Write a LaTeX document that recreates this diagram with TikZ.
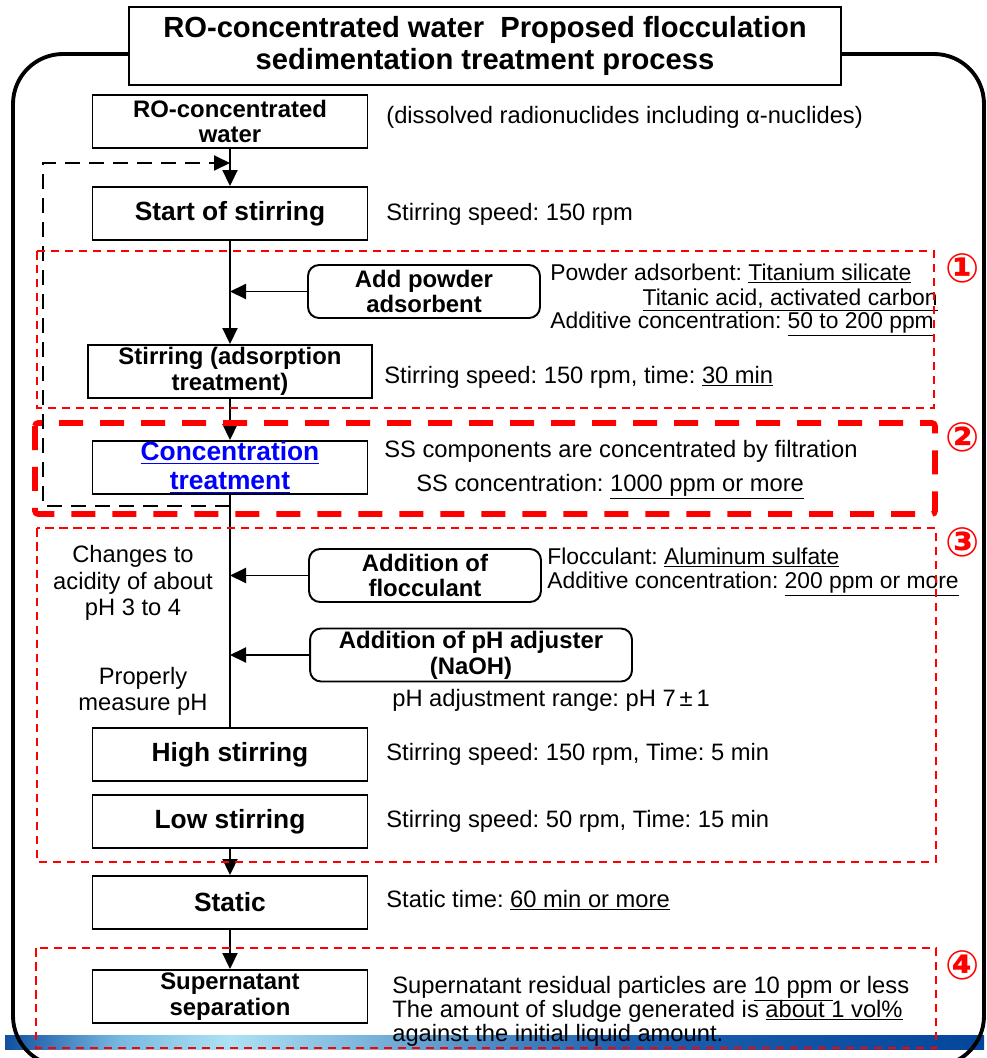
\documentclass[tikz,border=0pt]{standalone}
\usepackage{fontspec}
\setmainfont{Liberation Sans}
\newfontfamily\circfont{DejaVu Sans}
\frenchspacing
\usetikzlibrary{positioning}
\usetikzlibrary{shapes,arrows.meta}
\tikzset{
    objRectangle/.style={rectangle, minimum width=5.5cm, minimum height=1.06cm, text centered, draw=black, line width=1.1pt, align=center, inner sep=0pt},
    objRoundRectangle/.style={rectangle, rounded corners=0.22cm, minimum width=4.64cm, minimum height=1.06cm, text centered, draw=black, line width=1.1pt, align=center, inner sep=0pt},
    bigLabel/.style={font=\fontsize{15}{16.5}\selectfont\bfseries},
    midLabel/.style={font=\fontsize{13.6}{14.7}\selectfont\bfseries},
    noteText/.style={inner sep=0pt, anchor=base west, font=\fontsize{13.5}{14.7}\selectfont},
    addNote/.style={noteText, font=\fontsize{13}{14}\selectfont},
    sideNote/.style={inner sep=0pt, align=center, font=\fontsize{13.5}{14.9}\selectfont},
    zoneThin/.style={draw=red, line width=1pt, dash pattern=on 0.17cm off 0.11cm},
    zoneThick/.style={draw=red, line width=3.2pt, dash pattern=on 0.48cm off 0.34cm, rounded corners=0.06cm},
    zoneNum/.style={text=red, font=\circfont\bfseries\fontsize{23}{23}\selectfont, inner sep=0pt},
    arrow/.style={line width=1.1pt, -{Triangle[length=0.32cm, width=0.3cm]}},
    flowLine/.style={line width=1.1pt},
    loopArrow/.style={line width=1.1pt, dash pattern=on 0.3cm off 0.18cm, -{Triangle[length=0.32cm, width=0.3cm]}}
}

\begin{document}
\begin{tikzpicture}[x=0.02cm, y=-0.02cm]
  \useasboundingbox (0,0) rectangle (987,1058);

  % blue band along the bottom
  \shade[left color={rgb,255:red,16;green,80;blue,160}, right color={rgb,255:red,120;green,185;blue,225}] (5,1035) rectangle (120,1049);
  \shade[left color={rgb,255:red,120;green,185;blue,225}, right color={rgb,255:red,172;green,226;blue,243}] (120,1035) rectangle (230,1049);
  \shade[left color={rgb,255:red,172;green,226;blue,243}, right color={rgb,255:red,30;green,96;blue,176}] (230,1035) rectangle (620,1049);
  \shade[left color={rgb,255:red,30;green,96;blue,176}, right color={rgb,255:red,4;green,70;blue,155}] (620,1035) rectangle (984,1049);

  % outer frame
  \begin{scope}
    \clip (0,0) rectangle (987,1058);
    \draw[line width=2.2pt, rounded corners=1cm] (13,54) rectangle (984,1066);
  \end{scope}

  \node (title) [rectangle, draw=black, fill=white, line width=1.1pt, minimum width=14.24cm, minimum height=1.56cm, align=center, font=\fontsize{16.6}{18.2}\selectfont\bfseries] at (485,46) {RO-concentrated water\ \ Proposed flocculation\\sedimentation treatment process};

  % main flow
  \node (roWater) [objRectangle, midLabel] at (230,121.5) {RO-concentrated\\water};
  \node (startStir) [objRectangle, bigLabel] at (230,213.5) {Start of stirring};
  \node (addPowder) [objRoundRectangle, midLabel] at (424,291.5) {Add powder\\adsorbent};
  \node (stirAds) [objRectangle, midLabel, minimum width=5.68cm] at (230,371.5) {Stirring (adsorption\\treatment)};
  \node (concTreat) [objRectangle, bigLabel, text=blue] at (230,467.5) {\underline{Concentration}\\\underline{treatment}};
  \node (addFloc) [objRoundRectangle, midLabel] at (425,575.5) {Addition of\\flocculant};
  \node (addPh) [objRoundRectangle, midLabel, minimum width=6.44cm] at (471,655) {Addition of pH adjuster\\(NaOH)};
  \node (highStir) [objRectangle, bigLabel] at (230,754.5) {High stirring};
  \node (lowStir) [objRectangle, bigLabel] at (230,821.5) {Low stirring};
  \node (static) [objRectangle, bigLabel] at (230,902.5) {Static};
  \node (superSep) [objRectangle, midLabel] at (230,996.5) {Supernatant\\separation};

  % notes beside the flow
  \node (noteRO) [noteText] at (386,123) {(dissolved radionuclides including α-nuclides)};
  \node (noteStart) [noteText] at (386,220) {Stirring speed: 150 rpm};
  \node (notePowA) [addNote] at (550,280) {Powder adsorbent: \underline{Titanium silicate}};
  \node (notePowB) [addNote, anchor=base east] at (938,305) {\underline{Titanic acid, activated carbon}};
  \node (notePowC) [addNote] at (550,328) {Additive concentration: \underline{50 to 200 ppm}};
  \node (noteAds) [noteText] at (384,383) {Stirring speed: 150 rpm, time: \underline{30 min}};
  \node (noteConcA) [noteText] at (384,457) {SS components are concentrated by filtration};
  \node (noteConcB) [noteText] at (416,491) {SS concentration: \underline{1000 ppm or more}};
  \node (noteFlocA) [addNote] at (547,564) {Flocculant: \underline{Aluminum sulfate}};
  \node (noteFlocB) [addNote] at (547,588) {Additive concentration: \underline{200 ppm or more}};
  \node (notePh) [noteText] at (392,706) {pH adjustment range: pH 7\,±\,1};
  \node (noteHigh) [noteText] at (386,760) {Stirring speed: 150 rpm, Time: 5 min};
  \node (noteLow) [noteText] at (386,827) {Stirring speed: 50 rpm, Time: 15 min};
  \node (noteStatic) [noteText] at (386,907) {Static time: \underline{60 min or more}};
  \node (noteSupA) [noteText] at (392,993) {Supernatant residual particles are \underline{10 ppm} or less};
  \node (noteSupB) [noteText] at (392,1017) {The amount of sludge generated is \underline{about 1 vol\%}};
  \node (noteSupC) [noteText] at (392,1041) {against the initial liquid amount.};
  \node (acidNote) [sideNote] at (133,583) {Changes to\\acidity of about\\pH 3 to 4};
  \node (measNote) [sideNote] at (143,691) {Properly\\measure pH};

  \draw[arrow] (roWater) -- (startStir);
  \draw[arrow] (startStir) -- (stirAds);
  \draw[arrow] (addPowder.west) -- (addPowder.west -| stirAds.north);
  \draw[arrow] (stirAds) -- (concTreat);
  \draw[flowLine] (concTreat) -- (highStir);
  \draw[arrow] (addFloc.west) -- (addFloc.west -| concTreat.south);
  \draw[arrow] (addPh.west) -- (addPh.west -| concTreat.south);
  \draw[arrow] (lowStir) -- (static);
  \draw[arrow] (static) -- (superSep);

  % return loop
  \coordinate (loopStart) at (230,506);
  \coordinate (loopTop) at (43,163);
  \draw[loopArrow] (loopStart) -| (loopTop) -- (loopTop -| roWater.south);

  % treatment stages
  \draw[zoneThin] (37,251) rectangle (934,408);
  \draw[zoneThick] (35,423) rectangle (935,514);
  \draw[zoneThin] (37,528) rectangle (936,862);
  \draw[zoneThin] (36,948) rectangle (936,1048);
  \node (num1) [zoneNum] at (963,268) {①};
  \node (num2) [zoneNum] at (963,437) {②};
  \node (num3) [zoneNum] at (963,542) {③};
  \node (num4) [zoneNum] at (963,965) {④};
\end{tikzpicture}
\end{document}
